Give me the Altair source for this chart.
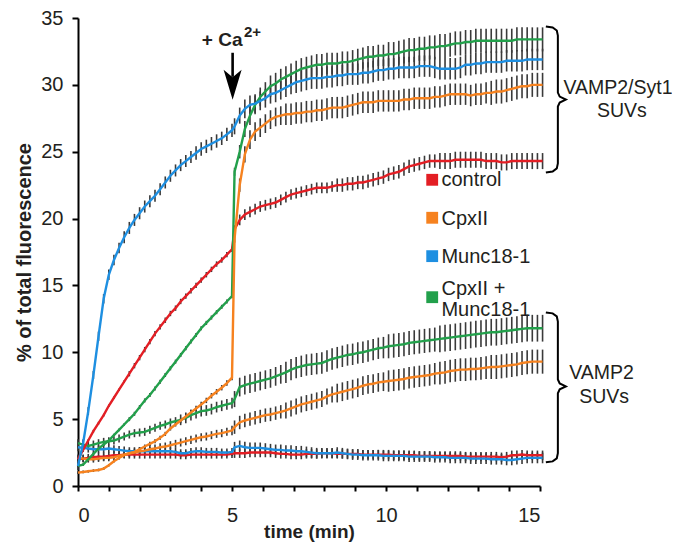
import altair as alt
import pandas as pd

# sampling grid (10 s steps): before Ca2+ and after Ca2+ addition
PRE_T = [round(k / 6, 4) for k in range(31)]
POST_T = [round(5 + 1 / 12 + k / 6, 4) for k in range(61)]

CONDITIONS = ["control", "CpxII", "Munc18-1", "CpxII + Munc18-1"]
COLORS = ["#e31e24", "#f6821f", "#1e8fe1", "#22a04b"]

# ---- VAMP2/Syt1 SUVs ----
munc_syt_pre = [1.5, 3.2, 5.6, 8.3, 11.2, 14.0, 15.8, 16.9, 17.8, 18.6,
                19.3, 19.9, 20.4, 20.9, 21.3, 21.7, 22.2, 22.7, 23.2, 23.6,
                24.0, 24.3, 24.6, 24.9, 25.2, 25.4, 25.6, 25.8, 26.0, 26.3,
                26.6]
munc_syt_post = [26.9, 27.7, 28.2, 28.5, 28.6, 28.8, 29.0, 29.3, 29.4, 29.6,
                 29.8, 30.0, 30.2, 30.3, 30.4, 30.5, 30.5, 30.5, 30.6, 30.6,
                 30.7, 30.7, 30.8, 30.8, 30.8, 30.9, 30.9, 31.0, 31.1, 31.1,
                 31.2, 31.2, 31.3, 31.3, 31.3, 31.3, 31.4, 31.4, 31.4, 31.3,
                 31.2, 31.2, 31.2, 31.2, 31.3, 31.5, 31.5, 31.6, 31.6, 31.7,
                 31.7, 31.7, 31.7, 31.8, 31.8, 31.8, 31.8, 31.9, 31.9, 31.9,
                 31.9]
both_syt_pre = [1.5, 1.6, 2.0, 2.4, 2.8, 3.1, 3.4, 3.8, 4.2, 4.6,
                5.0, 5.4, 5.9, 6.4, 6.8, 7.3, 7.8, 8.3, 8.8, 9.3,
                9.8, 10.3, 10.8, 11.3, 11.8, 12.2, 12.6, 13.0, 13.4, 13.8,
                14.2]
both_syt_post = [23.5, 25.0, 26.7, 27.7, 28.5, 29.1, 29.5, 29.9, 30.1, 30.4,
                 30.6, 30.8, 31.0, 31.2, 31.3, 31.4, 31.5, 31.5, 31.6, 31.6,
                 31.6, 31.7, 31.7, 31.8, 31.9, 32.0, 32.1, 32.1, 32.2, 32.2,
                 32.3, 32.3, 32.4, 32.5, 32.6, 32.6, 32.7, 32.7, 32.8, 32.8,
                 32.9, 32.9, 33.0, 33.1, 33.1, 33.2, 33.2, 33.3, 33.3, 33.3,
                 33.3, 33.3, 33.3, 33.3, 33.3, 33.4, 33.4, 33.4, 33.4, 33.4,
                 33.4]
cpx_syt_pre = [1.0, 1.05, 1.1, 1.15, 1.2, 1.3, 1.55, 1.85, 2.1, 2.3,
               2.45, 2.55, 2.75, 2.95, 3.15, 3.35, 3.6, 3.9, 4.3, 4.6,
               4.9, 5.2, 5.5, 5.8, 6.1, 6.4, 6.75, 7.05, 7.35, 7.7,
               8.1]
cpx_syt_post = [18.5, 22.5, 24.8, 25.9, 26.5, 26.8, 27.1, 27.4, 27.6, 27.7,
                27.8, 27.8, 27.9, 27.9, 28.0, 28.0, 28.1, 28.1, 28.2, 28.3,
                28.3, 28.3, 28.4, 28.5, 28.6, 28.7, 28.7, 28.7, 28.8, 28.8,
                28.8, 28.8, 28.8, 28.9, 28.9, 29.0, 29.0, 29.0, 29.0, 29.1,
                29.1, 29.2, 29.3, 29.3, 29.3, 29.3, 29.2, 29.3, 29.3, 29.4,
                29.4, 29.5, 29.5, 29.6, 29.7, 29.8, 29.9, 29.9, 30.0, 30.0,
                30.0]
ctrl_syt_pre = [2.0, 2.7, 3.4, 4.1, 4.7, 5.3, 6.0, 6.6, 7.2, 7.8,
                8.4, 9.0, 9.6, 10.2, 10.8, 11.4, 11.9, 12.4, 12.9, 13.3,
                13.8, 14.2, 14.6, 15.0, 15.4, 15.8, 16.2, 16.6, 16.9, 17.3,
                17.7]
ctrl_syt_post = [19.2, 19.9, 20.3, 20.5, 20.7, 20.9, 21.0, 21.1, 21.2, 21.4,
                 21.6, 21.8, 21.9, 22.0, 22.1, 22.2, 22.3, 22.3, 22.3, 22.4,
                 22.5, 22.5, 22.6, 22.6, 22.7, 22.7, 22.8, 22.9, 23.0, 23.1,
                 23.3, 23.4, 23.5, 23.7, 23.9, 24.0, 24.1, 24.2, 24.3, 24.3,
                 24.3, 24.3, 24.3, 24.4, 24.4, 24.4, 24.4, 24.4, 24.4, 24.3,
                 24.3, 24.3, 24.2, 24.2, 24.3, 24.3, 24.3, 24.3, 24.3, 24.3,
                 24.3]

# ---- VAMP2 SUVs ----
both_v2_pre = [3.2, 3.1, 3.0, 3.1, 3.2, 3.3, 3.35, 3.4, 3.55, 3.7,
               3.85, 3.95, 4.0, 4.05, 4.2, 4.35, 4.5, 4.6, 4.75, 4.85,
               4.95, 5.1, 5.3, 5.45, 5.6, 5.65, 5.75, 5.9, 6.0, 6.1,
               6.2]
both_v2_post = [6.5, 7.4, 7.55, 7.65, 7.75, 7.85, 7.95, 8.05, 8.2, 8.35,
                8.5, 8.7, 8.85, 8.95, 9.05, 9.1, 9.15, 9.2, 9.35, 9.5,
                9.6, 9.7, 9.8, 9.85, 9.95, 10.0, 10.1, 10.2, 10.3, 10.35,
                10.45, 10.5, 10.55, 10.6, 10.7, 10.75, 10.8, 10.85, 10.9, 10.95,
                11.0, 11.05, 11.1, 11.15, 11.2, 11.25, 11.3, 11.35, 11.4, 11.45,
                11.5, 11.5, 11.55, 11.6, 11.65, 11.7, 11.75, 11.8, 11.8, 11.8,
                11.8]
cpx_v2_pre = [2.1, 2.05, 2.0, 2.0, 2.05, 2.1, 2.1, 2.15, 2.25, 2.35,
              2.45, 2.5, 2.6, 2.65, 2.75, 2.8, 2.9, 2.95, 3.05, 3.15,
              3.25, 3.35, 3.45, 3.55, 3.65, 3.7, 3.8, 3.9, 3.95, 4.05,
              4.15]
cpx_v2_post = [4.4, 4.75, 4.9, 5.0, 5.1, 5.2, 5.3, 5.35, 5.45, 5.55,
               5.65, 5.8, 5.95, 6.1, 6.2, 6.3, 6.4, 6.5, 6.7, 6.85,
               6.95, 7.05, 7.15, 7.25, 7.35, 7.5, 7.6, 7.65, 7.75, 7.8,
               7.85, 7.9, 7.95, 8.0, 8.1, 8.15, 8.2, 8.25, 8.3, 8.4,
               8.45, 8.5, 8.6, 8.65, 8.7, 8.7, 8.75, 8.75, 8.8, 8.85,
               8.9, 8.9, 8.95, 9.0, 9.05, 9.1, 9.2, 9.25, 9.3, 9.3,
               9.3]
munc_v2_pre = [2.9, 2.85, 2.8, 2.75, 2.75, 2.75, 2.8, 2.75, 2.7, 2.65,
               2.6, 2.6, 2.6, 2.6, 2.6, 2.6, 2.6, 2.6, 2.6, 2.55,
               2.45, 2.45, 2.55, 2.6, 2.6, 2.55, 2.55, 2.55, 2.5, 2.5,
               2.55]
munc_v2_post = [2.9, 3.0, 2.9, 2.85, 2.85, 2.85, 2.8, 2.75, 2.7, 2.7,
                2.65, 2.65, 2.6, 2.6, 2.55, 2.5, 2.45, 2.45, 2.45, 2.45,
                2.5, 2.45, 2.4, 2.35, 2.35, 2.3, 2.3, 2.3, 2.3, 2.25,
                2.25, 2.25, 2.25, 2.25, 2.2, 2.2, 2.2, 2.2, 2.2, 2.15,
                2.15, 2.15, 2.1, 2.1, 2.1, 2.1, 2.05, 2.05, 2.05, 2.05,
                2.0, 2.0, 2.0, 1.95, 1.95, 2.0, 2.05, 2.1, 2.1, 2.1,
                2.1]
ctrl_v2_pre = [2.0, 2.05, 2.1, 2.15, 2.2, 2.2, 2.25, 2.3, 2.3, 2.35,
               2.35, 2.35, 2.35, 2.35, 2.35, 2.35, 2.35, 2.35, 2.35, 2.35,
               2.3, 2.3, 2.35, 2.35, 2.35, 2.35, 2.35, 2.35, 2.35, 2.35,
               2.4]
ctrl_v2_post = [2.45, 2.45, 2.45, 2.5, 2.5, 2.5, 2.5, 2.5, 2.45, 2.4,
                2.4, 2.35, 2.35, 2.35, 2.4, 2.4, 2.4, 2.45, 2.45, 2.45,
                2.4, 2.4, 2.4, 2.4, 2.4, 2.35, 2.35, 2.35, 2.35, 2.35,
                2.35, 2.3, 2.3, 2.3, 2.3, 2.3, 2.25, 2.25, 2.25, 2.25,
                2.25, 2.25, 2.25, 2.25, 2.25, 2.2, 2.2, 2.2, 2.2, 2.2,
                2.2, 2.2, 2.15, 2.2, 2.3, 2.3, 2.35, 2.3, 2.3, 2.3,
                2.3]

# ---- error bar half-widths (SEM) ----
munc_syt_err_pre = [0.3, 0.3, 0.3, 0.3, 0.35, 0.35, 0.4, 0.4, 0.4, 0.45,
                    0.45, 0.45, 0.45, 0.45, 0.45, 0.45, 0.45, 0.45, 0.45, 0.45,
                    0.45, 0.45, 0.45, 0.5, 0.5, 0.5, 0.5, 0.5, 0.5, 0.5,
                    0.5]
munc_syt_err_post = [0.6, 0.6, 0.7, 0.7, 0.7, 0.7, 0.7, 0.7, 0.7, 0.7,
                     0.7, 0.7, 0.8, 0.8, 0.8, 0.8, 0.8, 0.8, 0.8, 0.8,
                     0.8, 0.8, 0.8, 0.8, 0.8, 0.8, 0.8, 0.8, 0.8, 0.8,
                     0.8, 0.8, 0.8, 0.8, 0.8, 0.8, 0.8, 0.8, 0.8, 0.8,
                     0.8, 0.8, 0.8, 0.8, 0.8, 0.8, 0.8, 0.8, 0.8, 0.8,
                     0.8, 0.8, 0.8, 0.8, 0.8, 0.8, 0.8, 0.8, 0.8, 0.8,
                     0.8]
both_syt_err_pre = [0.1, 0.1, 0.1, 0.1, 0.1, 0.1, 0.1, 0.1, 0.1, 0.1,
                    0.15, 0.15, 0.15, 0.15, 0.15, 0.15, 0.15, 0.15, 0.15, 0.15,
                    0.15, 0.15, 0.15, 0.15, 0.15, 0.15, 0.15, 0.15, 0.15, 0.15,
                    0.15]
both_syt_err_post = [0.3, 0.5, 0.6, 0.7, 0.7, 0.7, 0.7, 0.8, 0.8, 0.8,
                     0.8, 0.8, 0.8, 0.8, 0.8, 0.8, 0.8, 0.8, 0.8, 0.8,
                     0.8, 0.8, 0.8, 0.8, 0.8, 0.8, 0.8, 0.8, 0.8, 0.8,
                     0.9, 0.9, 0.9, 0.9, 0.9, 0.9, 0.9, 0.9, 0.9, 0.9,
                     0.9, 0.9, 0.9, 0.9, 0.9, 0.9, 0.9, 0.9, 0.9, 0.9,
                     0.9, 0.9, 0.9, 0.9, 0.9, 0.9, 0.9, 0.9, 0.9, 0.9,
                     0.9]
cpx_syt_err_pre = [0.1, 0.1, 0.1, 0.1, 0.1, 0.1, 0.1, 0.1, 0.1, 0.1,
                   0.15, 0.15, 0.15, 0.15, 0.15, 0.15, 0.15, 0.15, 0.15, 0.15,
                   0.2, 0.2, 0.2, 0.2, 0.2, 0.2, 0.2, 0.2, 0.2, 0.2,
                   0.2]
cpx_syt_err_post = [0.3, 0.5, 0.6, 0.7, 0.7, 0.7, 0.7, 0.7, 0.7, 0.7,
                    0.8, 0.8, 0.8, 0.8, 0.8, 0.8, 0.8, 0.8, 0.8, 0.8,
                    0.8, 0.8, 0.8, 0.8, 0.8, 0.8, 0.8, 0.8, 0.8, 0.8,
                    0.8, 0.8, 0.8, 0.8, 0.8, 0.8, 0.8, 0.8, 0.8, 0.8,
                    0.8, 0.8, 0.8, 0.8, 0.8, 0.8, 0.8, 0.8, 0.8, 0.8,
                    0.9, 0.9, 0.9, 0.9, 0.9, 0.9, 0.9, 0.9, 0.9, 0.9,
                    0.9]
ctrl_syt_err_pre = [0.1, 0.1, 0.1, 0.1, 0.1, 0.1, 0.1, 0.1, 0.1, 0.1,
                    0.2, 0.2, 0.2, 0.2, 0.2, 0.2, 0.2, 0.2, 0.2, 0.2,
                    0.2, 0.2, 0.2, 0.2, 0.2, 0.2, 0.2, 0.2, 0.2, 0.2,
                    0.2]
ctrl_syt_err_post = [0.3, 0.4, 0.4, 0.4, 0.4, 0.4, 0.4, 0.4, 0.4, 0.4,
                     0.4, 0.4, 0.4, 0.4, 0.4, 0.4, 0.4, 0.4, 0.4, 0.4,
                     0.5, 0.5, 0.5, 0.5, 0.5, 0.5, 0.5, 0.5, 0.5, 0.5,
                     0.5, 0.5, 0.5, 0.5, 0.5, 0.5, 0.5, 0.5, 0.5, 0.5,
                     0.6, 0.6, 0.6, 0.6, 0.6, 0.6, 0.6, 0.6, 0.6, 0.6,
                     0.6, 0.6, 0.6, 0.6, 0.6, 0.6, 0.6, 0.6, 0.6, 0.6,
                     0.6]
both_v2_err_pre = [0.3, 0.3, 0.3, 0.3, 0.3, 0.3, 0.3, 0.3, 0.3, 0.3,
                   0.3, 0.3, 0.3, 0.3, 0.3, 0.3, 0.3, 0.3, 0.3, 0.3,
                   0.4, 0.4, 0.4, 0.4, 0.4, 0.4, 0.4, 0.4, 0.4, 0.4,
                   0.4]
both_v2_err_post = [0.6, 0.7, 0.7, 0.7, 0.7, 0.7, 0.7, 0.7, 0.7, 0.7,
                    0.8, 0.8, 0.8, 0.8, 0.8, 0.8, 0.8, 0.8, 0.8, 0.8,
                    0.8, 0.8, 0.8, 0.8, 0.8, 0.8, 0.8, 0.8, 0.8, 0.8,
                    0.9, 0.9, 0.9, 0.9, 0.9, 0.9, 0.9, 0.9, 0.9, 0.9,
                    1.0, 1.0, 1.0, 1.0, 1.0, 1.0, 1.0, 1.0, 1.0, 1.0,
                    1.0, 1.0, 1.0, 1.0, 1.0, 1.0, 1.0, 1.0, 1.0, 1.0,
                    1.0]
cpx_v2_err_pre = [0.25, 0.25, 0.25, 0.25, 0.25, 0.25, 0.25, 0.25, 0.25, 0.25,
                  0.3, 0.3, 0.3, 0.3, 0.3, 0.3, 0.3, 0.3, 0.3, 0.3,
                  0.3, 0.3, 0.3, 0.3, 0.3, 0.3, 0.3, 0.3, 0.3, 0.3,
                  0.35]
cpx_v2_err_post = [0.5, 0.5, 0.5, 0.5, 0.5, 0.5, 0.5, 0.5, 0.5, 0.5,
                   0.6, 0.6, 0.6, 0.6, 0.6, 0.6, 0.6, 0.6, 0.6, 0.6,
                   0.7, 0.7, 0.7, 0.7, 0.7, 0.7, 0.7, 0.7, 0.7, 0.7,
                   0.8, 0.8, 0.8, 0.8, 0.8, 0.8, 0.8, 0.8, 0.8, 0.8,
                   0.85, 0.85, 0.85, 0.85, 0.85, 0.85, 0.85, 0.85, 0.85, 0.85,
                   0.9, 0.9, 0.9, 0.9, 0.9, 0.9, 0.9, 0.9, 0.9, 0.9,
                   0.9]
munc_v2_err_pre = [0.3, 0.3, 0.3, 0.3, 0.3, 0.3, 0.3, 0.3, 0.3, 0.3,
                   0.3, 0.3, 0.3, 0.3, 0.3, 0.3, 0.3, 0.3, 0.3, 0.3,
                   0.3, 0.3, 0.3, 0.3, 0.3, 0.3, 0.3, 0.3, 0.3, 0.3,
                   0.3]
munc_v2_err_post = [0.4, 0.4, 0.4, 0.4, 0.4, 0.4, 0.4, 0.4, 0.4, 0.4,
                    0.4, 0.4, 0.4, 0.4, 0.4, 0.4, 0.4, 0.4, 0.4, 0.4,
                    0.4, 0.4, 0.4, 0.4, 0.4, 0.4, 0.4, 0.4, 0.4, 0.4,
                    0.4, 0.4, 0.4, 0.4, 0.4, 0.4, 0.4, 0.4, 0.4, 0.4,
                    0.4, 0.4, 0.4, 0.4, 0.4, 0.4, 0.4, 0.4, 0.4, 0.4,
                    0.4, 0.4, 0.4, 0.4, 0.4, 0.4, 0.4, 0.4, 0.4, 0.4,
                    0.4]
ctrl_v2_err_pre = [0.3, 0.3, 0.3, 0.3, 0.3, 0.3, 0.3, 0.3, 0.3, 0.3,
                   0.3, 0.3, 0.3, 0.3, 0.3, 0.3, 0.3, 0.3, 0.3, 0.3,
                   0.3, 0.3, 0.3, 0.3, 0.3, 0.3, 0.3, 0.3, 0.3, 0.3,
                   0.3]
ctrl_v2_err_post = [0.35, 0.35, 0.35, 0.35, 0.35, 0.35, 0.35, 0.35, 0.35, 0.35,
                    0.35, 0.35, 0.35, 0.35, 0.35, 0.35, 0.35, 0.35, 0.35, 0.35,
                    0.35, 0.35, 0.35, 0.35, 0.35, 0.35, 0.35, 0.35, 0.35, 0.35,
                    0.35, 0.35, 0.35, 0.35, 0.35, 0.35, 0.35, 0.35, 0.35, 0.35,
                    0.35, 0.35, 0.35, 0.35, 0.35, 0.35, 0.35, 0.35, 0.35, 0.35,
                    0.35, 0.35, 0.35, 0.35, 0.35, 0.35, 0.35, 0.35, 0.35, 0.35,
                    0.35]

SERIES = [
    ("ctrl_v2", "control", ctrl_v2_pre, ctrl_v2_post, ctrl_v2_err_pre, ctrl_v2_err_post),
    ("munc_v2", "Munc18-1", munc_v2_pre, munc_v2_post, munc_v2_err_pre, munc_v2_err_post),
    ("cpx_v2", "CpxII", cpx_v2_pre, cpx_v2_post, cpx_v2_err_pre, cpx_v2_err_post),
    ("both_v2", "CpxII + Munc18-1", both_v2_pre, both_v2_post, both_v2_err_pre, both_v2_err_post),
    ("ctrl_syt", "control", ctrl_syt_pre, ctrl_syt_post, ctrl_syt_err_pre, ctrl_syt_err_post),
    ("both_syt", "CpxII + Munc18-1", both_syt_pre, both_syt_post, both_syt_err_pre, both_syt_err_post),
    ("cpx_syt", "CpxII", cpx_syt_pre, cpx_syt_post, cpx_syt_err_pre, cpx_syt_err_post),
    ("munc_syt", "Munc18-1", munc_syt_pre, munc_syt_post, munc_syt_err_pre, munc_syt_err_post),
]

rows = []
for sid, cond, pre, post, epre, epost in SERIES:
    assert len(pre) == 31 and len(epre) == 31, sid
    assert len(post) == 61 and len(epost) == 61, sid
    for t, v, e in zip(PRE_T + POST_T, pre + post, epre + epost):
        rows.append({"series": sid, "cond": cond, "t": t, "v": v,
                     "lo": v - e, "hi": v + e})
df = pd.DataFrame(rows)

# ---- legend (drawn inside the plot) ----
LEG_NAMES = ["control", "CpxII", "Munc18-1", "CpxII + Munc18-1"]
LEG_SQ_T = [11.5, 11.5, 11.5, 11.5]
LEG_SQ_V = [22.9, 20.06, 17.19, 14.12]
LEG_TXT = ["control", "CpxII", "Munc18-1"]
LEG_TXT_T = [11.8, 11.8, 11.8]
LEG_TXT_V = [22.85, 19.95, 17.1]
LEG_TXT2 = ["CpxII +\nMunc18-1"]
LEG_TXT2_T = [11.8]
LEG_TXT2_V = [14.3]   # baseline of the first line

# ---- annotations ----
CA_T, CA_V = 5.34, 33.39
SUP_T, SUP_V = 5.39, 33.97
ARROW_T = 5.02
ARROW_TOP, ARROW_BOT = 32.4, 30.6
ARROW_HEAD_V = 30.0
BRACES = [("syt", 34.36, 28.9, 23.45), ("v2", 12.98, 7.45, 1.77)]
BRACE_LABELS = ["VAMP2/Syt1", "SUVs", "VAMP2", "SUVs"]
BRACE_LABEL_T = [17.53, 17.66, 17.0, 17.08]
BRACE_LABEL_V = [29.8, 28.03, 8.42, 6.63]

FONT = "Liberation Sans"
INK = "#231f20"

xscale = alt.Scale(domain=[0, 15], nice=False, zero=False)
yscale = alt.Scale(domain=[0, 35], nice=False)
xaxis = alt.Axis(values=list(range(16)), grid=False, tickSize=5, tickWidth=2,
                 tickColor="black", domainColor="black", domainWidth=2,
                 labelExpr="datum.value % 5 == 0 ? datum.label : ''",
                 labelOverlap=False, labelFontSize=20, labelFont=FONT,
                 labelColor=INK, labelPadding=14, titleFont=FONT,
                 titleFontSize=19, titleFontWeight="bold", titleColor=INK,
                 titleY=51, titleBaseline="alphabetic")
yaxis = alt.Axis(values=[0, 5, 10, 15, 20, 25, 30, 35], grid=False, tickSize=6,
                 tickWidth=2, tickColor="black", domainColor="black",
                 domainWidth=2, labelFontSize=20, labelFont=FONT,
                 labelColor=INK, labelPadding=9, titleFont=FONT,
                 titleFontSize=20, titleFontWeight="bold", titleColor=INK,
                 titleX=-54, titleY=234, titleAngle=270, titleAlign="center",
                 titleBaseline="middle")
XT = "time (min)"
YT = "% of total fluorescence"


def X(field="t"):
    return alt.X(f"{field}:Q", scale=xscale, axis=xaxis, title=XT)


def Y(field="v"):
    return alt.Y(f"{field}:Q", scale=yscale, axis=yaxis, title=YT)


errbars = alt.Chart(df).mark_rule(color="#3a3a3a", strokeWidth=1.6).encode(
    x=X(), y=Y("lo"), y2="hi")

lines = alt.Chart(df).mark_line(strokeWidth=2.4).encode(
    x=X(), y=Y(),
    color=alt.Color("cond:N", scale=alt.Scale(domain=CONDITIONS, range=COLORS),
                    legend=None),
    detail="series:N", order="t:Q")

leg_sq_df = pd.DataFrame({"t": LEG_SQ_T, "v": LEG_SQ_V, "col": COLORS,
                          "name": LEG_NAMES})
leg_squares = alt.Chart(leg_sq_df).mark_square(size=140, opacity=1, filled=True).encode(
    x=X(), y=Y(), color=alt.Color("col:N", scale=None))

leg_txt_df = pd.DataFrame({"t": LEG_TXT_T, "v": LEG_TXT_V, "label": LEG_TXT})
leg_text = alt.Chart(leg_txt_df).mark_text(
    align="left", baseline="middle", font=FONT, fontSize=20, color=INK).encode(
    x=X(), y=Y(), text="label:N")

leg_txt2_df = pd.DataFrame({"t": LEG_TXT2_T, "v": LEG_TXT2_V, "label": LEG_TXT2})
leg_text2 = alt.Chart(leg_txt2_df).mark_text(
    align="left", baseline="alphabetic", font=FONT, fontSize=20, color=INK,
    lineBreak="\n", lineHeight=21).encode(
    x=X(), y=Y(), text="label:N")

ca_df = pd.DataFrame({"t": [CA_T], "v": [CA_V], "label": ["+ Ca"]})
ca_text = alt.Chart(ca_df).mark_text(
    align="right", baseline="middle", font=FONT, fontSize=19,
    fontWeight="bold", color=INK).encode(x=X(), y=Y(), text="label:N")
sup_df = pd.DataFrame({"t": [SUP_T], "v": [SUP_V], "label": ["2+"]})
sup_text = alt.Chart(sup_df).mark_text(
    align="left", baseline="middle", font=FONT, fontSize=15,
    fontWeight="bold", color=INK).encode(x=X(), y=Y(), text="label:N")

shaft_df = pd.DataFrame({"t": [ARROW_T], "v": [ARROW_TOP], "v2": [ARROW_BOT]})
shaft = alt.Chart(shaft_df).mark_rule(color="black", strokeWidth=2.6).encode(
    x=X(), y=Y(), y2="v2")
head_df = pd.DataFrame({"t": [ARROW_T], "v": [ARROW_HEAD_V]})
head = alt.Chart(head_df).mark_point(
    shape="M0,1 L-0.6,-1 L0,-0.5 L0.6,-1 Z", size=900, filled=True,
    opacity=1, color="black", strokeWidth=0).encode(x=X(), y=Y())


def brace_points(name, top, mid, bottom):
    x0, x1, x2, xs, xm, xt = 15.19, 15.41, 15.545, 15.58, 15.64, 15.84
    pts = [(x0, top), (x1, top - 0.07), (x2, top - 0.3), (xs, top - 0.68),
           (xs, mid + 0.52), (xm, mid + 0.22), (xt, mid), (xm, mid - 0.22),
           (xs, mid - 0.52), (xs, bottom + 0.68), (x2, bottom + 0.3),
           (x1, bottom + 0.07), (x0, bottom)]
    return [{"g": name, "i": i, "t": p[0], "v": p[1]} for i, p in enumerate(pts)]


brace_rows = []
for b in BRACES:
    brace_rows += brace_points(*b)
brace_df = pd.DataFrame(brace_rows)
braces = alt.Chart(brace_df).mark_line(color="black", strokeWidth=2).encode(
    x=X(), y=Y(), detail="g:N", order="i:Q")

bl_df = pd.DataFrame({"t": BRACE_LABEL_T, "v": BRACE_LABEL_V, "label": BRACE_LABELS})
brace_text = alt.Chart(bl_df).mark_text(
    align="center", baseline="middle", font=FONT, fontSize=19.5, color=INK).encode(
    x=X(), y=Y(), text="label:N")

chart = alt.layer(
    errbars, lines, leg_squares, leg_text, leg_text2, ca_text, sup_text, shaft,
    head, braces, brace_text
).properties(
    width=462, height=468,
    padding={"left": 70, "top": 10, "right": 132, "bottom": 56},
    autosize=alt.AutoSizeParams(type="none"),
    background="white",
).configure_view(stroke=None)

chart.save("out.html", embed_options={"renderer": "svg", "actions": False})
